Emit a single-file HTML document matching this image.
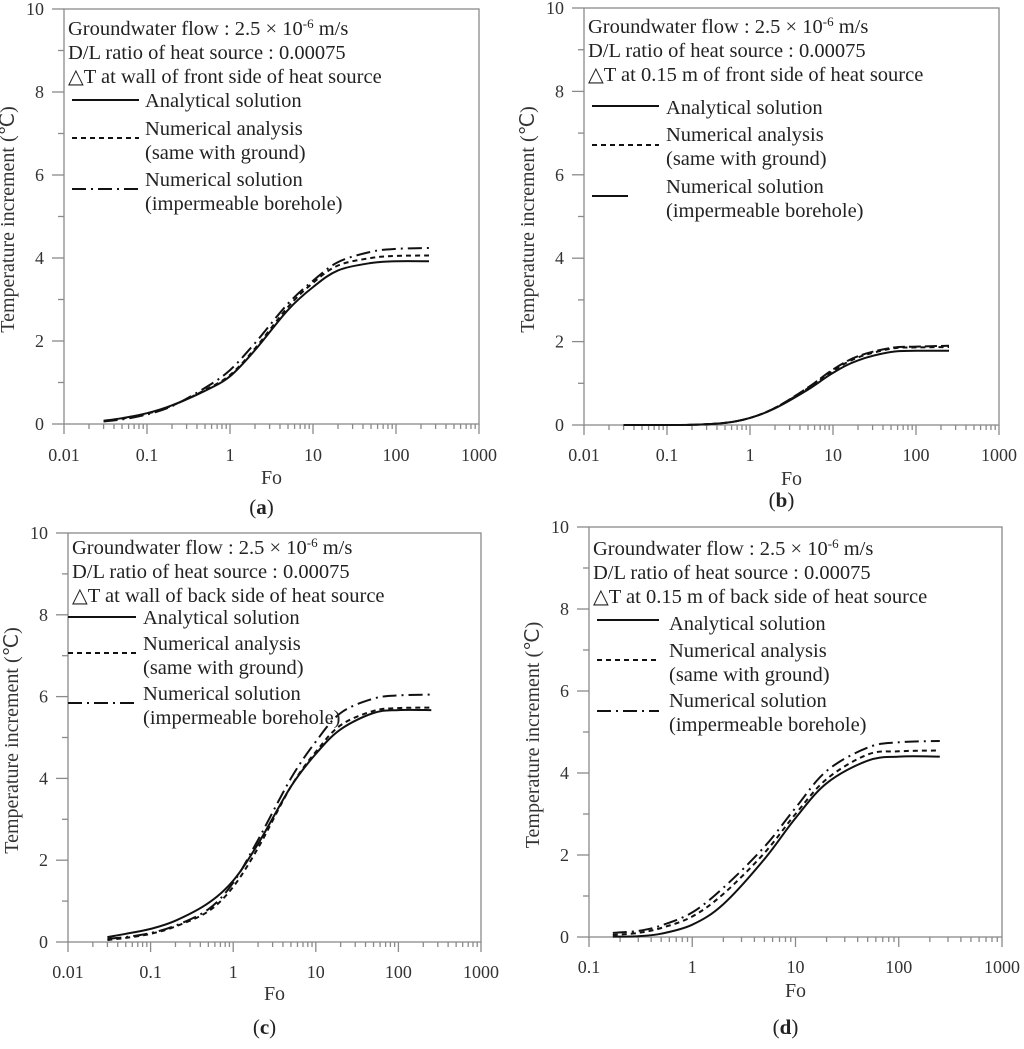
<!DOCTYPE html>
<html><head><meta charset="utf-8"><style>
html,body{margin:0;padding:0;background:#fff;}
svg{display:block;font-family:"Liberation Serif",serif;}
</style></head><body>
<svg id="fig" width="1024" height="1049" viewBox="0 0 1024 1049" xmlns="http://www.w3.org/2000/svg"></svg>
<script>
// ---- data ----
const foA = [0.03,0.05,0.1,0.2,0.5,1,2,5,10,20,50,100,250];
const aAnalytical = [0.08,0.14,0.26,0.45,0.8,1.15,1.78,2.75,3.3,3.7,3.88,3.92,3.92];
const aNumGround  = [0.07,0.13,0.25,0.44,0.82,1.18,1.82,2.82,3.4,3.82,4.0,4.05,4.06];
const aNumImperm  = [0.06,0.11,0.23,0.43,0.87,1.3,1.95,2.9,3.45,3.9,4.15,4.22,4.24];
const foB = [0.03,0.1,0.2,0.5,1,2,5,10,20,50,100,250];
const bAnalytical = [0,0,0.005,0.05,0.17,0.4,0.85,1.25,1.55,1.75,1.78,1.78];
const bNumGround  = [0,0,0.005,0.05,0.17,0.41,0.88,1.3,1.62,1.83,1.86,1.87];
const bNumImperm  = [0,0,0.005,0.05,0.17,0.41,0.9,1.33,1.65,1.85,1.88,1.9];
const foC = [0.03,0.05,0.1,0.2,0.5,1,2,5,10,20,50,100,250];
const cAnalytical = [0.12,0.2,0.32,0.52,0.95,1.5,2.4,3.8,4.6,5.2,5.6,5.67,5.67];
const cNumGround  = [0.05,0.1,0.2,0.38,0.75,1.35,2.3,3.8,4.65,5.3,5.65,5.72,5.73];
const cNumImperm  = [0.08,0.12,0.22,0.4,0.8,1.45,2.5,4.0,4.9,5.6,5.95,6.03,6.05];
const foD = [0.17,0.3,0.5,1,2,5,10,20,50,100,250];
const dAnalytical = [0.01,0.02,0.08,0.3,0.8,1.9,2.9,3.75,4.3,4.4,4.4];
const dNumGround  = [0.05,0.1,0.22,0.5,1.05,2.05,3.0,3.85,4.45,4.53,4.55];
const dNumImperm  = [0.1,0.15,0.28,0.6,1.2,2.2,3.15,4.05,4.62,4.75,4.78];
const yTicks = [0,2,4,6,8,10];
const xTicksFull = ["0.01","0.1","1","10","100","1000"];
const xTicksD = ["0.1","1","10","100","1000"];
const legendNames = ["Analytical solution","Numerical analysis","Numerical solution"];
const legendSub = ["","(same with ground)","(impermeable borehole)"];
const headers = {
 a:["\u25B3T at wall of front side of heat source"],
 b:["\u25B3T at 0.15 m of front side of heat source"],
 c:["\u25B3T at wall of back side of heat source"],
 d:["\u25B3T at 0.15 m of back side of heat source"]
};

const NS="http://www.w3.org/2000/svg";
const svg=document.getElementById('fig');
function mk(tag,attrs,parent){const e=document.createElementNS(NS,tag);for(const k in attrs)e.setAttribute(k,attrs[k]);(parent||svg).appendChild(e);return e;}

const FS=20.5;
const dashes=["", "5,4", "14,5,2,5"];
const panels=[
 {id:'a',L:64,R:479,T:9,B:424,xmin:0.01,xmax:1000,ticks:xTicksFull,fo:foA,s:[aAnalytical,aNumGround,aNumImperm],
  hy:28,ly:[100,138,189],ty:[100,128,179],lx1:72,lx2:139,tx:145,tickY:455,foY:477,labY:507},
 {id:'b',L:584,R:999,T:8,B:425,xmin:0.01,xmax:1000,ticks:xTicksFull,fo:foB,s:[bAnalytical,bNumGround,bNumImperm],
  hy:26,ly:[106,145,196],ty:[107,134,186],lx1:592,lx2:659,tx:666,tickY:455,foY:478,labY:500,solidThird:true},
 {id:'c',L:68,R:481,T:533,B:942,xmin:0.01,xmax:1000,ticks:xTicksFull,fo:foC,s:[cAnalytical,cNumGround,cNumImperm],
  hy:547,ly:[617,653,703],ty:[617,643,693],lx1:68,lx2:136,tx:143,tickY:972,foY:993,labY:1027},
 {id:'d',L:589,R:1002,T:527,B:937,xmin:0.1,xmax:1000,ticks:xTicksD,fo:foD,s:[dAnalytical,dNumGround,dNumImperm],
  hy:548,ly:[620,660,711],ty:[623,650,700],lx1:597,lx2:659,tx:669,tickY:967,foY:990,labY:1027}
];

function pathFrom(pts){
 let d=`M${pts[0][0].toFixed(1)},${pts[0][1].toFixed(1)}`;
 for(let i=0;i<pts.length-1;i++){
  const p0=pts[Math.max(0,i-1)],p1=pts[i],p2=pts[i+1],p3=pts[Math.min(pts.length-1,i+2)];
  const c1=[p1[0]+(p2[0]-p0[0])/6,p1[1]+(p2[1]-p0[1])/6];
  const c2=[p2[0]-(p3[0]-p1[0])/6,p2[1]-(p3[1]-p1[1])/6];
  d+=` C${c1[0].toFixed(1)},${c1[1].toFixed(1)} ${c2[0].toFixed(1)},${c2[1].toFixed(1)} ${p2[0].toFixed(1)},${p2[1].toFixed(1)}`;
 }
 return d;
}

panels.forEach(p=>{
 const g=mk('g',{});
 
 
 const lx0=Math.log10(p.xmin),lx1=Math.log10(p.xmax);
 const xs=v=>p.L+(Math.log10(v)-lx0)/(lx1-lx0)*(p.R-p.L);
 const ys=v=>p.B-v/10*(p.B-p.T);
 const ax='#8a8a8a';
 const frame=mk('rect',{x:p.L,y:p.T,width:p.R-p.L,height:p.B-p.T,fill:'none',stroke:ax,'stroke-width':1.3},g);
 
 
 for(let v=0;v<=10;v++){
  const y=ys(v);const major=v%2===0;
  mk('line',{x1:p.L-(major?12:6),x2:p.L,y1:y,y2:y,stroke:ax,'stroke-width':1.3},g);
 }
 yTicks.forEach(v=>{
  const t=mk('text',{x:p.L-20,y:ys(v)+6,'text-anchor':'end','font-size':18,fill:'#333'},g);
  t.textContent=String(v);
  
  
 });
 for(let e=lx0;e<=lx1;e++){
  for(let m=1;m<=9;m++){
   const v=m*Math.pow(10,e); if(v>p.xmax*1.0001)break;
   const x=xs(v);
   mk('line',{x1:x,x2:x,y1:p.B,y2:p.B+(m===1?10:5),stroke:ax,'stroke-width':1.3},g);
  }
 }
 p.ticks.forEach(s=>{
  const t=mk('text',{x:xs(parseFloat(s)),y:p.tickY+6,'text-anchor':'middle','font-size':18,fill:'#333'},g);
  t.textContent=s;
  
  
 });
 const xt=mk('text',{x:(p.L+p.R)/2,y:p.foY+7,'text-anchor':'middle','font-size':20,fill:'#333'},g);
 xt.textContent='Fo';
 
 
 const cy=(p.T+p.B)/2+3, cx=p.L-50;
 const yt=mk('text',{x:cx,y:cy,'text-anchor':'middle','font-size':20,fill:'#333',transform:`rotate(-90 ${cx} ${cy})`},g);
 yt.textContent='Temperature increment (\u2103)';
 
 
 const lab=mk('text',{x:(p.L+p.R)/2-10,y:p.labY+7,'text-anchor':'middle','font-size':21,fill:'#222'},g);
 lab.innerHTML='(<tspan font-weight="bold">'+p.id+'</tspan>)';
 
 
 const hx=p.L+4;
 const h1=mk('text',{x:hx,y:p.hy+7,'font-size':FS,fill:'#222'},g);
 h1.innerHTML='Groundwater flow : 2.5 \u00D7 10<tspan dy="-7" font-size="13">-6</tspan><tspan dy="7"> m/s</tspan>';
 
 
 const h2=mk('text',{x:hx,y:p.hy+31,'font-size':FS,fill:'#222'},g);
 h2.textContent='D/L ratio of heat source : 0.00075';
 
 
 const h3=mk('text',{x:hx,y:p.hy+55,'font-size':FS,fill:'#222'},g);
 h3.textContent=headers[p.id][0];
 
 
 p.s.forEach((vals,i)=>{
  const pts=p.fo.map((f,k)=>[xs(f),ys(vals[k])]);
  const da=(i===2&&p.solidThird)?"12,4":dashes[i];
  const path=mk('path',{d:pathFrom(pts),fill:'none',stroke:'#111','stroke-width':2,'stroke-dasharray':da},g);
  
  
  const ll=mk('line',{x1:p.lx1,x2:p.lx2,y1:p.ly[i],y2:p.ly[i],stroke:'#111','stroke-width':2,'stroke-dasharray':(i===2&&p.solidThird)?"36,100":dashes[i]},g);
  
  
  const t=mk('text',{x:p.tx,y:p.ty[i]+7,'font-size':FS,fill:'#222'},g);
  t.textContent=legendNames[i];
  
  
  if(legendSub[i]){
   const t2=mk('text',{x:p.tx,y:p.ty[i]+31,'font-size':FS,fill:'#222'},g);
   t2.textContent=legendSub[i];
   
   
  }
 });
});
</script>
</body></html>
